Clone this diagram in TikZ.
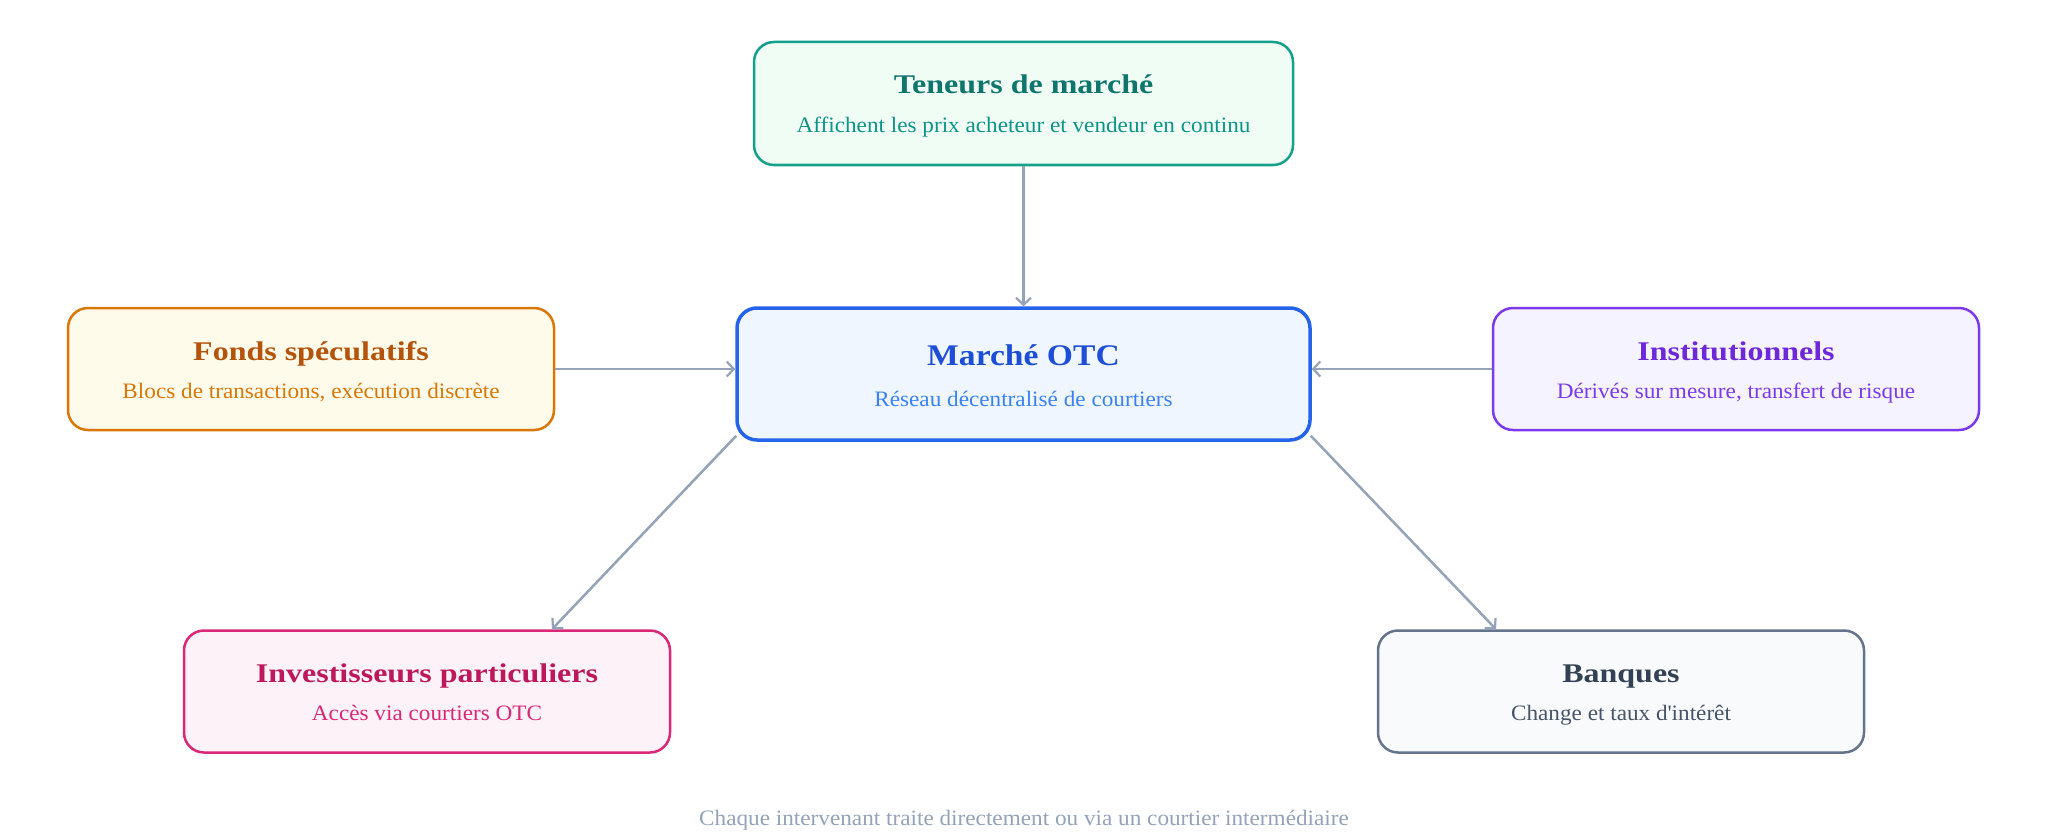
\documentclass[tikz,border=0pt]{standalone}
\usepackage{fontspec}
\setmainfont{Liberation Serif}
\newfontfamily\ttlfont[FakeStretch=1.185]{Liberation Serif}
\newfontfamily\otcfont[FakeStretch=1.12]{Liberation Serif}
\newfontfamily\subfont[FakeStretch=1.055]{Liberation Serif}
\usetikzlibrary{arrows.meta,calc}
\definecolor{arrowc}{HTML}{94A3B8}
\definecolor{tenB}{HTML}{14A08A}\definecolor{tenF}{HTML}{F0FDF4}\definecolor{tenT}{HTML}{0F766E}\definecolor{tenS}{HTML}{0D9488}
\definecolor{otcB}{HTML}{2563EB}\definecolor{otcF}{HTML}{EFF6FF}\definecolor{otcT}{HTML}{1D4ED8}\definecolor{otcS}{HTML}{3B82F6}
\definecolor{fonB}{HTML}{D97706}\definecolor{fonF}{HTML}{FFFBEB}\definecolor{fonT}{HTML}{B45309}\definecolor{fonS}{HTML}{D97706}
\definecolor{insB}{HTML}{7C3AED}\definecolor{insF}{HTML}{F5F3FF}\definecolor{insT}{HTML}{6D28D9}\definecolor{insS}{HTML}{7C3AED}
\definecolor{invB}{HTML}{DB2777}\definecolor{invF}{HTML}{FDF2F8}\definecolor{invT}{HTML}{BE185D}\definecolor{invS}{HTML}{DB2777}
\definecolor{banB}{HTML}{64748B}\definecolor{banF}{HTML}{F8FAFC}\definecolor{banT}{HTML}{334155}\definecolor{banS}{HTML}{475569}
\definecolor{foot}{HTML}{94A3B8}
\begin{document}
\begin{tikzpicture}[x=1pt,y=-1pt,
  box/.style={draw, rounded corners=20pt, line width=2.5pt, minimum width=486pt, minimum height=122pt, inner sep=0pt},
  ttl/.style={anchor=base, inner sep=0pt, font=\ttlfont\fontsize{27}{30}\selectfont\bfseries},
  sub/.style={anchor=base, inner sep=0pt, font=\subfont\fontsize{22}{25}\selectfont},
  conn/.style={draw=arrowc, line width=2.5pt, -{Straight Barb[length=7pt,width=15pt,line width=2.2pt]}}]
\useasboundingbox[fill=white] (0,0) rectangle (2048,840);

\node[box, draw=tenB, fill=tenF, minimum width=539pt, minimum height=123pt] (ten) at (1023.5,103.5) {};
\node[ttl, text=tenT] (tenTitle) at ($(ten.center)+(0,-9.5)$) {Teneurs de marché};
\node[sub, text=tenS] (tenSub) at ($(ten.center)+(0,29.5)$) {Affichent les prix acheteur et vendeur en continu};

\node[box, draw=otcB, fill=otcF, line width=3.5pt, minimum width=573pt, minimum height=132pt] (otc) at (1023.5,374) {};
\node[ttl, text=otcT, font=\otcfont\fontsize{30}{34}\selectfont\bfseries] (otcTitle) at ($(otc.center)+(0,-9)$) {Marché OTC};
\node[sub, text=otcS] (otcSub) at ($(otc.center)+(0,32)$) {Réseau décentralisé de courtiers};

\node[box, draw=fonB, fill=fonF] (fon) at (311,369) {};
\node[ttl, text=fonT] (fonTitle) at ($(fon.center)+(0,-9)$) {Fonds spéculatifs};
\node[sub, text=fonS] (fonSub) at ($(fon.center)+(0,29)$) {Blocs de transactions, exécution discrète};

\node[box, draw=insB, fill=insF] (ins) at (1736,369) {};
\node[ttl, text=insT] (insTitle) at ($(ins.center)+(0,-9)$) {Institutionnels};
\node[sub, text=insS] (insSub) at ($(ins.center)+(0,29)$) {Dérivés sur mesure, transfert de risque};

\node[box, draw=invB, fill=invF] (inv) at (427,691.5) {};
\node[ttl, text=invT] (invTitle) at ($(inv.center)+(0,-9)$) {Investisseurs particuliers};
\node[sub, text=invS] (invSub) at ($(inv.center)+(0,29)$) {Accès via courtiers OTC};

\node[box, draw=banB, fill=banF] (ban) at (1621,691.5) {};
\node[ttl, text=banT] (banTitle) at ($(ban.center)+(0,-9)$) {Banques};
\node[sub, text=banS] (banSub) at ($(ban.center)+(0,29)$) {Change et taux d\textquotesingle intérêt};

\node[anchor=base, inner sep=0pt, text=foot, font=\subfont\fontsize{22}{25}\selectfont] (note) at (1024,825) {Chaque intervenant traite directement ou via un courtier intermédiaire};

\coordinate (otcSW) at ($(otc.south west)+(1,-6)$);
\coordinate (otcSE) at ($(otc.south east)+(-1,-6)$);
\coordinate (invIn) at ($(inv.north)+(125,0)$);
\coordinate (banIn) at ($(ban.north)+(-125,0)$);

\draw[conn] (ten.south) -- (otc.north);
\draw[conn] (fon.east) -- (fon.east -| otc.west);
\draw[conn] (ins.west) -- (ins.west -| otc.east);
\draw[conn] (otcSW) -- (invIn);
\draw[conn] (otcSE) -- (banIn);
\end{tikzpicture}
\end{document}
